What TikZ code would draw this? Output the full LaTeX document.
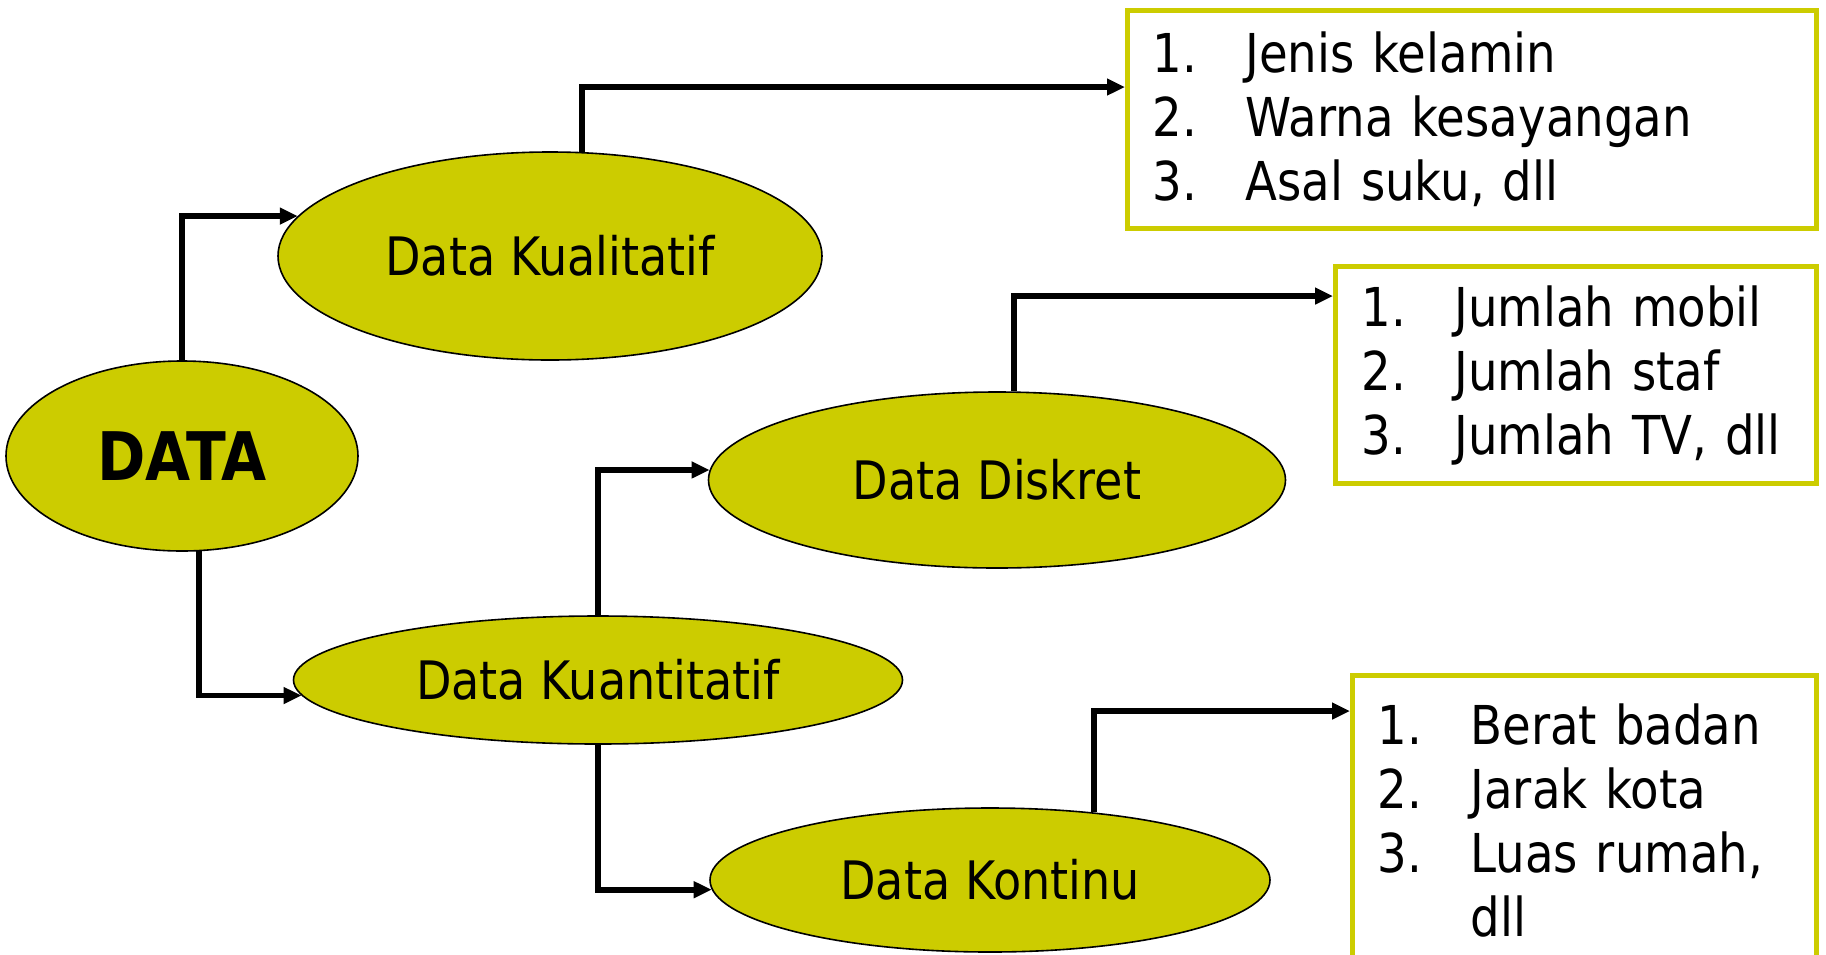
\documentclass[tikz,border=0pt]{standalone}
\usepackage{fontspec}
\setmainfont{DejaVu Sans}[FakeStretch=0.87]
\usetikzlibrary{shapes.geometric,arrows.meta}
\definecolor{datakuning}{HTML}{CCCC00}
\newcommand{\butir}[2]{\makebox[46.5pt][l]{#1}#2}

\begin{document}
\begin{tikzpicture}[x=0.5pt, y=-0.5pt, line width=2.8pt, >={Triangle[length=9pt,width=8pt]}]
            \useasboundingbox (0,0) rectangle (1826,954);
            \begin{scope}[every node/.style={ellipse,draw=black,line width=0.8pt,fill=datakuning,inner sep=0pt,font=\fontsize{26.5}{32}\selectfont}]
            \node[minimum width=176pt,minimum height=95pt,font=\fontsize{33.5}{38}\selectfont\bfseries] (data) at (182,456) {DATA};
            \node[minimum width=272pt,minimum height=104pt] (kual) at (550,256) {Data Kualitatif};
            \node[minimum width=288.5pt,minimum height=88pt] (disk) at (997,480) {Data Diskret};
            \node[minimum width=304.5pt,minimum height=64pt] (kuan) at (598,680) {Data Kuantitatif};
            \node[minimum width=280pt,minimum height=72pt] (kont) at (990,880) {Data Kontinu};
            \end{scope}
            \begin{scope}[every node/.style={rectangle,draw=datakuning,line width=2.5pt,fill=white,anchor=north west,inner xsep=12.5pt,align=left,font=\fontsize{26.8}{32}\selectfont}]
            \node[minimum width=344.5pt,minimum height=109pt,text width=319.5pt] (ciri1) at (1125,8) {\butir{1.}{Jenis kelamin}\\ \butir{2.}{Warna kesayangan}\\ \butir{3.}{Asal suku, dll}};
            \node[minimum width=240.5pt,minimum height=108.5pt,text width=214.5pt,inner xsep=13pt] (ciri2) at (1333,264) {\butir{1.}{Jumlah mobil}\\ \butir{2.}{Jumlah staf}\\ \butir{3.}{Jumlah TV, dll}};
            \node[minimum width=232pt,minimum height=145pt,text width=207pt] (ciri3) at (1350,673) {\butir{1.}{Berat badan}\\ \butir{2.}{Jarak kota}\\ \butir{3.}{Luas rumah,}\\ \butir{}{dll}};
            \end{scope}
            \begin{scope}[->]
            \draw (data.north) |- (kual.171);
            \draw (data.-80) |- (kuan.183);
            \draw (kual.73) |- ([yshift=-39.5pt]ciri1.north west);
            \draw (kuan.north) |- (disk.178);
            \draw (kuan.south) |- (kont.182);
            \draw (disk.79) |- ([yshift=-16pt]ciri2.north west);
            \draw (kont.33) |- ([yshift=-19pt]ciri3.north west);
            \end{scope}
\end{tikzpicture}
\end{document}
